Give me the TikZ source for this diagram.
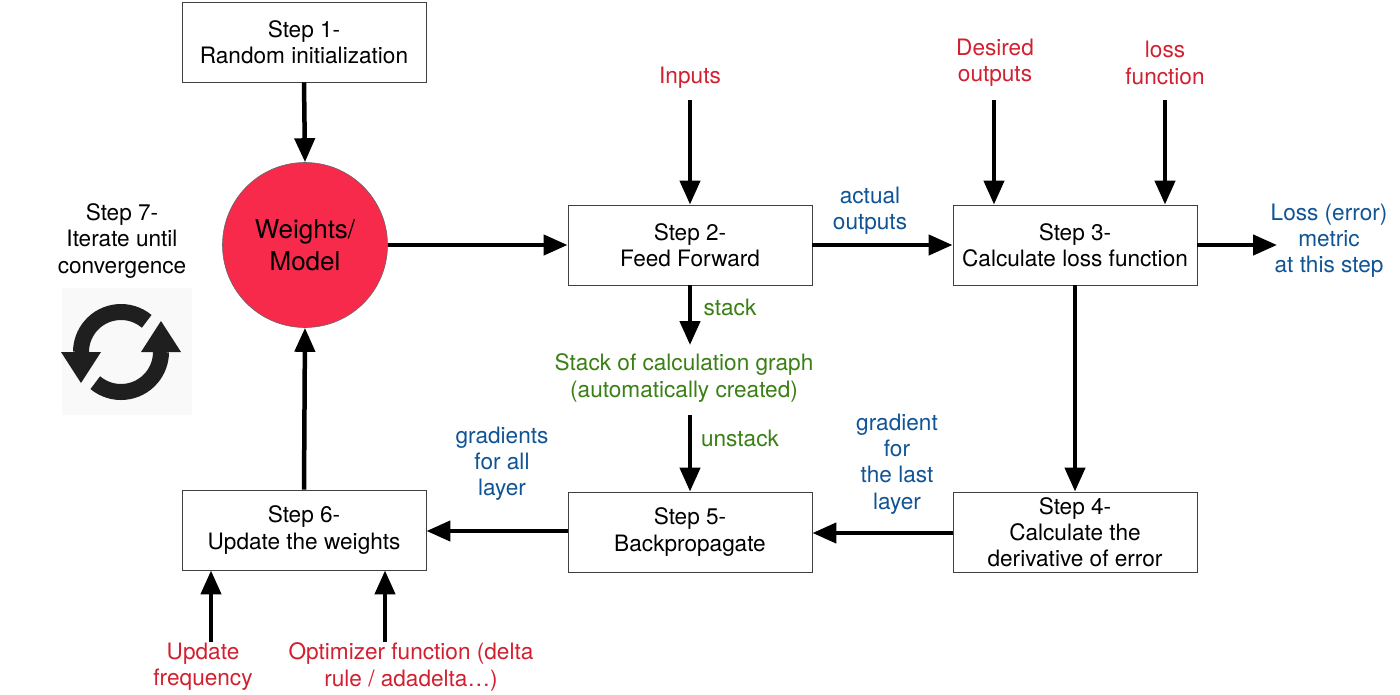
\documentclass[tikz,border=0pt]{standalone}
\usepackage{fontspec}
\setmainfont{TeX Gyre Heros}
\usetikzlibrary{arrows.meta}
\definecolor{cred}{RGB}{210,32,48}
\definecolor{cblue}{RGB}{16,84,150}
\definecolor{cgreen}{RGB}{58,128,20}
\definecolor{wred}{RGB}{247,42,76}
\begin{document}
\begin{tikzpicture}[x=1pt,y=-1pt,
  every node/.style={font=\fontsize{22.6}{26.2}\selectfont, align=center, inner sep=0pt},
  stepbox/.style={draw=black!75, line width=0.9pt, minimum width=244pt, minimum height=80pt},
  arr/.style={line width=4.5pt, -{Triangle[length=24pt,width=20pt]}},
  redtxt/.style={text=cred},
  bluetxt/.style={text=cblue},
  greentxt/.style={text=cgreen}]
\useasboundingbox (0,0) rectangle (1400,694);
\fill[white] (0,0) rectangle (1400,694);

% boxes
\node[stepbox] (s1) at (304,42) {Step 1-\\Random initialization};
\node[circle, fill=wred, draw=black!60, line width=0.6pt, minimum size=165pt,
      font=\fontsize{26}{32}\selectfont] (w) at (305,245) {Weights/\\Model};
\node[stepbox] (s2) at (690,245) {Step 2-\\Feed Forward};
\node[stepbox] (s3) at (1075,245) {Step 3-\\Calculate loss function};
\node[stepbox] (s4) at (1075,532) {Step 4-\\Calculate the\\derivative of error};
\node[stepbox] (s5) at (690,532) {Step 5-\\Backpropagate};
\node[stepbox] (s6) at (304,530) {Step 6-\\Update the weights};

% labels
\node[redtxt] (inp) at (690,78) {Inputs};
\node[redtxt] (des) at (995,63) {Desired\\outputs};
\node[redtxt] (lossf) at (1165,63) {loss\\function};
\node[bluetxt] (act) at (870,211) {actual\\outputs};
\node[bluetxt] (lm) at (1329,241) {Loss (error)\\metric\\at this step};
\node[greentxt] (stl) at (730,307) {stack};
\node[greentxt] (stk) at (684,378) {Stack of calculation graph\\(automatically created)};
\node[greentxt] (ustl) at (740,438) {unstack};
\node[bluetxt] (glast) at (897,464) {gradient\\for\\the last\\layer};
\node[bluetxt] (gall) at (502,464) {gradients\\for all\\layer};
\node[redtxt] (uf) at (203,667) {Update\\frequency};
\node[redtxt] (opt) at (411,667) {Optimizer function (delta\\rule / adadelta\ldots)};
\node (s7) at (122,241) {Step 7-\\Iterate until\\convergence};

% free ends
\coordinate (inp0) at (690,100);
\coordinate (des0) at (994,100);
\coordinate (lf0) at (1165,100);
\coordinate (lm0) at (1277,245);
\coordinate (stk0) at (690,345);
\coordinate (stk1) at (690,415);
\coordinate (uf0) at (211,642);
\coordinate (of0) at (385,642);

% connectors
\draw[arr] (s1.south) -- (w.north);
\draw[arr] (w.east) -- (s2.west);
\draw[arr] (inp0) -- (s2.north);
\draw[arr] (s2.east) -- (s3.west);
\draw[arr] (des0) -- (des0 |- s3.north);
\draw[arr] (lf0) -- (lf0 |- s3.north);
\draw[arr] (s3.east) -- (lm0);
\draw[arr] (s2.south) -- (stk0);
\draw[arr] (stk1) -- (s5.north);
\draw[arr] (s3.south) -- (s4.north);
\draw[arr] ([yshift=-1pt]s4.west) -- ([yshift=-1pt]s5.east);
\draw[arr] ([yshift=1pt]s5.west) -- ([yshift=1pt]s5.west -| s6.east);
\draw[arr] (s6.north) -- (w.south);
\draw[arr] (uf0) -- (uf0 |- s6.south);
\draw[arr] (of0) -- (of0 |- s6.south);

% refresh icon
\fill[black!2.5] (62,288) rectangle (192,415);
\draw[line width=16pt, black!88] (121,352) ++(50:40pt) arc[start angle=50, end angle=180, radius=40pt];
\draw[line width=16pt, black!88] (121,352) ++(230:40pt) arc[start angle=230, end angle=360, radius=40pt];
\fill[black!88] (61,352) -- (101,352) -- (81,383) -- cycle;
\fill[black!88] (141,352) -- (181,352) -- (161,321) -- cycle;
\end{tikzpicture}
\end{document}
